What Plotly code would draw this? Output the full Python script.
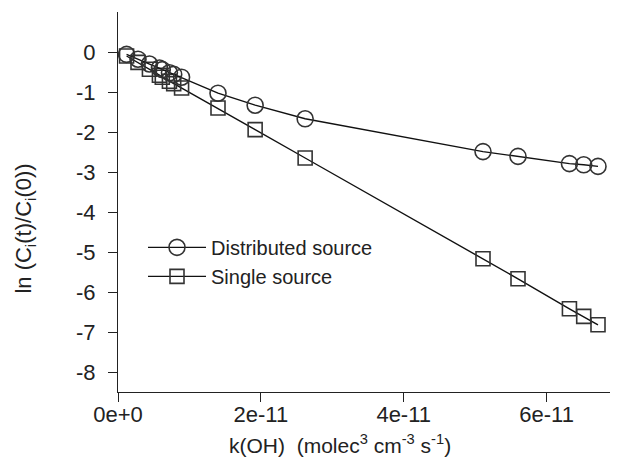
import plotly.graph_objects as go

# k(OH) values (molec^3 cm^-3 s^-1)
k_oh = [0.12e-11, 0.28e-11, 0.44e-11, 0.58e-11, 0.62e-11, 0.72e-11, 0.78e-11, 0.89e-11,
        1.40e-11, 1.92e-11, 2.62e-11, 5.11e-11, 5.60e-11, 6.32e-11, 6.52e-11, 6.72e-11]
distributed = [-0.06, -0.18, -0.30, -0.40, -0.44, -0.52, -0.56, -0.63,
               -1.03, -1.33, -1.67, -2.49, -2.61, -2.79, -2.82, -2.86]
single = [-0.10, -0.26, -0.43, -0.58, -0.63, -0.73, -0.79, -0.90,
          -1.40, -1.94, -2.65, -5.17, -5.67, -6.42, -6.61, -6.82]

x_tickvals = [0, 2e-11, 4e-11, 6e-11]
x_ticktext = ["0e+0", "2e-11", "4e-11", "6e-11"]
y_tickvals = [0, -1, -2, -3, -4, -5, -6, -7, -8]
y_ticktext = ["0", "-1", "-2", "-3", "-4", "-5", "-6", "-7", "-8"]

FONT = "Liberation Sans, Arial, sans-serif"

fig = go.Figure()
fig.add_trace(go.Scatter(
    x=k_oh, y=single, name="Single source", mode="lines+markers",
    line=dict(color="#111", width=1.4),
    marker=dict(symbol="square-open", size=14, color="#333", line=dict(width=1.6)),
))
fig.add_trace(go.Scatter(
    x=k_oh, y=distributed, name="Distributed source", mode="lines+markers",
    line=dict(color="#111", width=1.4),
    marker=dict(symbol="circle-open", size=16, color="#333", line=dict(width=1.6)),
))

fig.update_layout(
    width=610, height=451,
    margin=dict(l=110, r=0, t=4, b=67),
    plot_bgcolor="white", paper_bgcolor="white",
    font=dict(family=FONT, size=20, color="#222"),
    showlegend=True,
    legend=dict(
        x=0.05, y=0.432, xanchor="left", yanchor="top",
        traceorder="reversed",
        font=dict(size=20, color="#222"),
        bgcolor="rgba(0,0,0,0)", itemwidth=58,
    ),
    xaxis=dict(
        range=[0, 7e-11], showline=True, linecolor="#222", linewidth=1.3,
        ticks="outside", ticklen=9, tickwidth=1.3, tickcolor="#222",
        tickvals=x_tickvals, ticktext=x_ticktext, showgrid=False, zeroline=False,
        tickfont=dict(size=22), ticklabelstandoff=-7,
    ),
    yaxis=dict(
        range=[-8.5, 1], showline=True, linecolor="#222", linewidth=1.3,
        ticks="outside", ticklen=9, tickwidth=1.3, tickcolor="#222",
        tickvals=y_tickvals, ticktext=y_ticktext, showgrid=False, zeroline=False,
        tickfont=dict(size=22), ticklabelstandoff=8,
    ),
    annotations=[
        dict(text="k(OH)  (molec<sup>3</sup> cm<sup>-3</sup> s<sup>-1</sup>)",
             xref="paper", yref="paper", x=0.217, y=-0.137,
             xanchor="left", yanchor="middle", showarrow=False,
             font=dict(size=21, color="#222")),
        dict(text="ln (C<sub>i</sub>(t)/C<sub>i</sub>(0))",
             xref="paper", yref="paper", x=-0.186, y=0.43,
             xanchor="center", yanchor="middle", textangle=-90, showarrow=False,
             font=dict(size=22, color="#222")),
    ],
)

fig.write_html("out.html")
